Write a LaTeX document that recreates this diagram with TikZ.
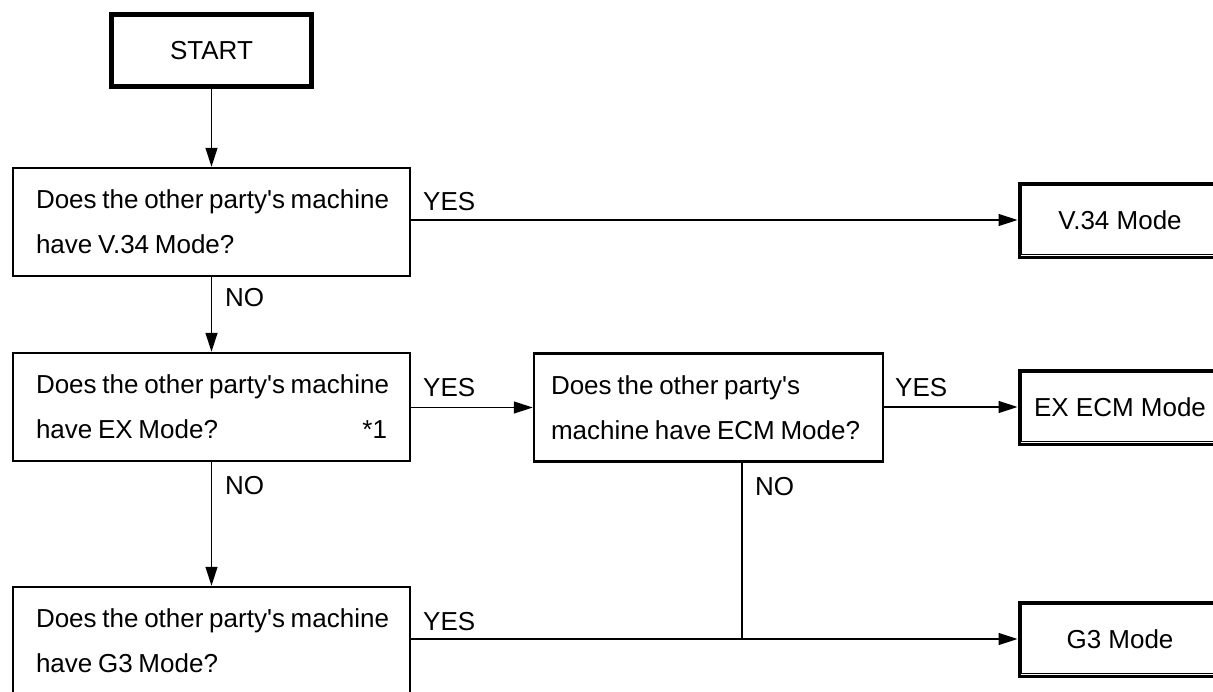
\documentclass[tikz,border=0pt]{standalone}
\usepackage{fontspec}
\setmainfont{Liberation Sans}[Ligatures=TeXOff]
\usetikzlibrary{arrows.meta}
\begin{document}
\begin{tikzpicture}[x=1pt,y=-1pt,
  every node/.style={font=\fontsize{26}{45}\selectfont},
  qbox/.style={draw, line width=2.5pt, align=left, inner ysep=0pt, minimum height=108pt,
    execute at begin node={\spaceskip=0.22em\relax}},
  term/.style={draw, line width=3pt, minimum width=202pt, minimum height=74pt, inner sep=0pt},
  lab/.style={anchor=west, inner sep=0pt},
  conn/.style={line width=1.3pt},
  arr/.style={conn, -{Triangle[length=19pt,width=12pt]}},
  inner/.style={line width=1.4pt}
]
\useasboundingbox (0,0) rectangle (1213,691);
\clip (0,0) rectangle (1213,691);

% terminals
\node[term] (start) at (211.5,50.5) {START};
\node[term] (v34)   at (1120,220)  {V.34 Mode};
\node[term] (execm) at (1120,407)  {EX ECM Mode};
\node[term] (g3)    at (1120,639)  {G3 Mode};
\foreach \n in {start,v34,execm,g3}
  \draw[inner] ([xshift=4pt,yshift=-4pt]\n.north west) rectangle ([xshift=-4pt,yshift=4pt]\n.south east);

% decisions
\node[qbox, text width=351pt, inner xsep=23pt] (q1) at (211.5,222)
  {\mbox{Does the other party's machine}\\\mbox{have V.34 Mode?}};
\node[qbox, text width=351pt, inner xsep=23pt] (q2) at (211.5,407)
  {\mbox{Does the other party's machine}\\have EX Mode?\hfill*1};
\node[qbox, text width=315pt, inner xsep=17pt] (ecm) at (708.5,407.5)
  {\mbox{Does the other party's}\\\mbox{machine have ECM Mode?}};
\node[qbox, text width=351pt, inner xsep=23pt] (q3) at (211.5,641)
  {\mbox{Does the other party's machine}\\\mbox{have G3 Mode?}};

% labels
\node[lab] (y1) at (423,202) {YES};
\node[lab] (y2) at (423,388) {YES};
\node[lab] (y3) at (895,388) {YES};
\node[lab] (y4) at (423,622) {YES};
\node[lab] (n1) at (225,298) {NO};
\node[lab] (n2) at (225,486) {NO};
\node[lab] (n3) at (755,487) {NO};

% connectors
\coordinate (j) at (742,639);
\draw[arr] (start) -- (q1);
\draw[arr] (q1.east |- v34.west) -- (v34.west);
\draw[arr] (q1) -- (q2);
\draw[arr] (q2.east |- ecm.west) -- (ecm.west);
\draw[arr] (ecm.east |- execm.west) -- (execm.west);
\draw[arr] (q2) -- (q3);
\draw[arr] (q3.east |- g3.west) -- (g3.west);
\draw[conn] (ecm.south -| j) -- (j);
\end{tikzpicture}
\end{document}
